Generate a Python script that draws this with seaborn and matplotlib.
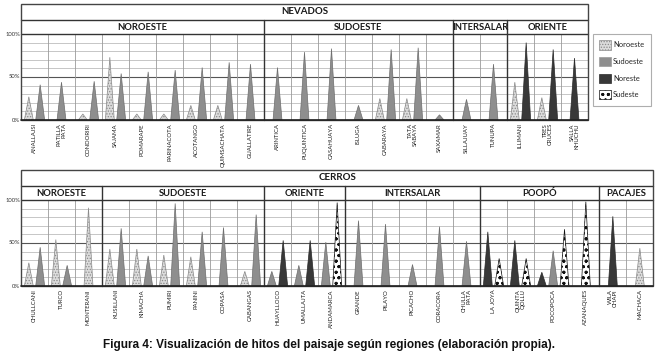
import numpy as np
import pandas as pd
import matplotlib
matplotlib.use("Agg")
import matplotlib.pyplot as plt
from matplotlib.patches import Patch, Rectangle
import seaborn as sns

# ---------------- data ----------------
SERIES = ["Noroeste", "Sudoeste", "Noreste", "Sudeste"]

nev_hitos = ["ANALLAJSI", "PATILLA\nPATA", "CONDORIRI", "SAJAMA", "POMARAPE",
             "PARINACOTA", "ACOTANGO", "QUIMSACHATA", "GUALLATIRE",
             "ARINTICA", "PUQUINTICA", "CASAHUAYA", "ISLUGA", "CABARAYA",
             "TATA\nSABAYA", "SAXAMAR",
             "SILLAJUAY", "TUNUPA",
             "ILLIMANI", "TRES\nCRUCES", "SALLA\nKHUCHU"]
nev_regiones = ["NOROESTE", "SUDOESTE", "INTERSALAR", "ORIENTE"]
nev_tamanos = [9, 7, 2, 3]
nev_noroeste = [27, 0, 7, 73, 7, 7, 17, 17, 0, 0, 0, 0, 0, 25, 25, 0, 0, 0, 44, 26, 0]
nev_sudoeste = [41, 44, 45, 54, 56, 58, 61, 67, 65, 61, 79, 83, 17, 82, 84, 6, 24, 65, 0, 0, 0]
nev_noreste = [0, 0, 0, 0, 0, 0, 0, 0, 0, 0, 0, 0, 0, 0, 0, 0, 0, 0, 90, 82, 72]
nev_sudeste = [0] * 21

cer_hitos = ["CHULLCANI", "TURCO", "MONTERANI",
             "KUSILLANI", "KIMACHA", "PUMIRI", "PANINI", "COPASA", "CABANGAS",
             "HUAYLLOCO", "UMALLAJTA", "ANDAMARCA",
             "GRANDE", "PILAYO", "PICACHO", "CORACORA", "CHULLA\nPATA",
             "LA JOYA", "QUINTA\nQOLLU", "POCOPOCA", "AZANAQUES",
             "WILA\nCHAPI", "MACHACA"]
cer_regiones = ["NOROESTE", "SUDOESTE", "ORIENTE", "INTERSALAR", "POOPÓ", "PACAJES"]
cer_tamanos = [3, 6, 3, 5, 4, 2]
cer_noroeste = [27, 54, 91, 43, 43, 36, 34, 0, 17, 0, 0, 0, 0, 0, 0, 0, 0, 0, 0, 0, 0, 0, 44]
cer_sudoeste = [45, 24, 0, 67, 35, 96, 63, 68, 83, 17, 24, 51, 76, 72, 25, 69, 52, 0, 0, 41, 0, 0, 0]
cer_noreste = [0, 0, 0, 0, 0, 0, 0, 0, 0, 53, 53, 0, 0, 0, 0, 0, 0, 63, 53, 16, 0, 81, 0]
cer_sudeste = [0, 0, 0, 0, 0, 0, 0, 0, 0, 0, 0, 97, 0, 0, 0, 0, 0, 32, 32, 66, 98, 0, 0]
cer_orden_especial = {"POCOPOCA": ["Noreste", "Sudoeste", "Sudeste"]}

caption = "Figura 4: Visualización de hitos del paisaje según regiones (elaboración propia)."

# ---------------- style ----------------
sns.set_theme(style="white")
plt.rcParams["font.family"] = ["Lato", "DejaVu Sans"]
plt.rcParams["hatch.linewidth"] = 0.6

FILL = dict(zip(SERIES, ["#dcdcdc", "#8e8e8e", "#383838", "#ffffff"]))
EDGE = dict(zip(SERIES, ["#8a8a8a", "#6e6e6e", "#2a2a2a", "#111111"]))
HATCH = dict(zip(SERIES, ["......", None, None, "...ooo"]))

W_FIG, H_FIG = 658, 355
fig = plt.figure(figsize=(W_FIG / 100, H_FIG / 100), dpi=100)


def px_axes(left, top, width, height):
    return fig.add_axes([left / W_FIG, 1 - (top + height) / H_FIG,
                         width / W_FIG, height / H_FIG])


COLPX = 27.0
PXU = 0.86          # pixels per percent unit
SUB_TOP = 100 + 14 / PXU
HEAD_TOP = SUB_TOP + 16 / PXU


def layout(hitos, vals, orden):
    cols = []
    x = 0.0
    for i, h in enumerate(hitos):
        key = h.replace("\n", " ")
        order = orden.get(key, SERIES)
        present = [s for s in order if vals[s][i] > 0]
        n = len(present)
        w = 1.0 if n <= 2 else 1.0 + 0.42 * (n - 2)
        cols.append((x, w, present))
        x += w
    return cols, x


def draw_panel(left, top, titulo, hitos, regiones, tamanos, vals, orden):
    cols, total = layout(hitos, vals, orden)
    ax = px_axes(left, top, total * COLPX, (HEAD_TOP) * PXU)
    ax.set_xlim(0, total)
    ax.set_ylim(0, HEAD_TOP)
    ax.axis("off")
    kw = dict(clip_on=False)
    # grid
    for g in range(10, 100, 10):
        if g == 50:
            ax.plot([0, total], [g, g], color="#555555", lw=0.8, zorder=1, **kw)
        else:
            ax.plot([0, total], [g, g], color="#bdbdbd", lw=0.6, zorder=1, **kw)
    # region boundaries
    bounds = np.cumsum([0] + tamanos)
    region_x = [cols[b][0] if b < len(cols) else total for b in bounds]
    # column separators
    for i, (x0, w, _) in enumerate(cols):
        if i not in bounds:
            ax.plot([x0, x0], [0, 100], color="#9a9a9a", lw=0.6, zorder=1, **kw)
    for rx in region_x[1:-1]:
        ax.plot([rx, rx], [0, SUB_TOP], color="#333333", lw=1.0, zorder=3, **kw)
    # frame lines
    ax.add_patch(Rectangle((0, 0), total, HEAD_TOP, fill=False,
                           edgecolor="#444444", lw=1.0, zorder=4, **kw))
    for yy in (100, SUB_TOP):
        ax.plot([0, total], [yy, yy], color="#333333", lw=1.0, zorder=3, **kw)
    ax.plot([0, total], [0, 0], color="#222222", lw=1.2, zorder=4, **kw)
    # triangles
    hw = 0.165
    for i, (x0, w, present) in enumerate(cols):
        n = len(present)
        for k, s in enumerate(present):
            c = x0 + w / 2 + (k - (n - 1) / 2) * 0.42
            v = vals[s][i]
            ax.fill([c - hw, c, c + hw], [0, v, 0], facecolor=FILL[s],
                    edgecolor=EDGE[s], hatch=HATCH[s], lw=0.5, zorder=2)
        ax.text(x0 + w / 2, -3.5, hitos[i], rotation=90, ha="center", va="top",
                multialignment="right", fontsize=4.3, linespacing=0.95,
                color="#222222")
    # headers
    ax.text(total / 2, (SUB_TOP + HEAD_TOP) / 2, titulo, ha="center",
            va="center", fontsize=7.0, fontweight="bold", color="#1a1a1a")
    for r, a, b in zip(regiones, region_x[:-1], region_x[1:]):
        ax.text((a + b) / 2, (100 + SUB_TOP) / 2, r, ha="center", va="center",
                fontsize=6.8, fontweight="bold", color="#1a1a1a")
    # y tick labels
    for yv, lab in ((100, "100%"), (50, "50%"), (0, "0%")):
        ax.text(-0.04, yv, lab, ha="right", va="center", fontsize=4.2,
                color="#333333")
    return ax


nev_vals = dict(zip(SERIES, [nev_noroeste, nev_sudoeste, nev_noreste, nev_sudeste]))
cer_vals = dict(zip(SERIES, [cer_noroeste, cer_sudoeste, cer_noreste, cer_sudeste]))

draw_panel(21, 4, "NEVADOS", nev_hitos, nev_regiones, nev_tamanos, nev_vals, {})
draw_panel(21, 170, "CERROS", cer_hitos, cer_regiones, cer_tamanos, cer_vals,
           cer_orden_especial)

# legend
handles = [Patch(facecolor=FILL[s], edgecolor=EDGE[s] if s != "Sudoeste" else "#9a9a9a",
                 hatch=HATCH[s], lw=0.5, label=s) for s in SERIES]
leg = fig.legend(handles=handles, loc="upper left",
                 bbox_to_anchor=(593 / W_FIG, 1 - 34 / H_FIG),
                 fontsize=5.4, frameon=True, fancybox=False,
                 handlelength=1.5, handleheight=1.5, labelspacing=1.0,
                 handletextpad=0.3, borderpad=0.85, borderaxespad=0)
leg.get_frame().set_edgecolor("#9a9a9a")
leg.get_frame().set_linewidth(0.8)

fig.text(0.5, 1 - 345 / H_FIG, caption, ha="center", va="center",
         fontsize=8.5, fontweight="bold", family=["Liberation Sans", "DejaVu Sans"],
         color="#111111")

fig.savefig("out.png", dpi=100)
